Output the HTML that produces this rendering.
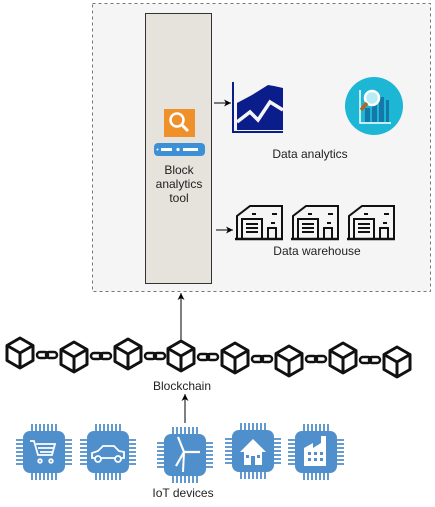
<!DOCTYPE html>
<html><head><meta charset="utf-8"><style>
html,body{margin:0;padding:0;background:#fff;}
svg{display:block;font-family:"Liberation Sans",Arial,sans-serif;}
</style></head><body>
<svg width="435" height="507" viewBox="0 0 435 507" xmlns="http://www.w3.org/2000/svg">
<defs>
<marker id="ah" markerWidth="8" markerHeight="8" refX="7" refY="4" orient="auto" markerUnits="userSpaceOnUse">
<path d="M0,0.5 L7,4 L0,7.5 L2,4 Z" fill="#000"/></marker>
<g id="cube" fill="none" stroke="#111" stroke-width="3" stroke-linejoin="round">
<path d="M0,-15 L13,-7.5 L13,7.5 L0,15 L-13,7.5 L-13,-7.5 Z" fill="#fff"/>
<path d="M-13,-7.5 L0,0 L13,-7.5 M0,0 L0,15"/>
</g>
<g id="chain" fill="none" stroke="#111" stroke-width="2.5">
<rect x="-10" y="-3" width="11" height="6" rx="3"/><rect x="-1" y="-3" width="11" height="6" rx="3"/>
</g>
<g id="chip">
<g stroke="#4f8fcb" stroke-width="1.8">
<path d="M-12,-28 v8 M-8,-28 v8 M-4,-28 v8 M0,-28 v8 M4,-28 v8 M8,-28 v8 M12,-28 v8"/>
<path d="M-12,20 v8 M-8,20 v8 M-4,20 v8 M0,20 v8 M4,20 v8 M8,20 v8 M12,20 v8"/>
<path d="M-28,-12 h8 M-28,-8 h8 M-28,-4 h8 M-28,0 h8 M-28,4 h8 M-28,8 h8 M-28,12 h8"/>
<path d="M20,-12 h8 M20,-8 h8 M20,-4 h8 M20,0 h8 M20,4 h8 M20,8 h8 M20,12 h8"/>
</g>
<rect x="-21" y="-21" width="42" height="42" rx="7" fill="#4f8fcb"/>
</g>
<g id="wh" fill="none" stroke="#111" stroke-width="2">
<path d="M1,35 V12 L14,2 H46 V35"/>
<rect x="6" y="15" width="20" height="20"/>
<path d="M10,20 h12 M10,24 h12 M10,28 h12"/>
<rect x="32" y="24" width="8" height="11"/>
<path d="M16,10 h4 M36,10 h5 M35,19 h4"/>
<path d="M-1,35 h48" stroke-width="2.5"/>
</g>
</defs>

<rect x="92.5" y="3.5" width="338" height="288" fill="#f5f5f5" stroke="#777" stroke-dasharray="3,3"/>
<rect x="145.5" y="13.5" width="66" height="270" fill="#e6e2dc" stroke="#333"/>

<rect x="164" y="109" width="31" height="28" fill="#f0902a"/>
<circle cx="177" cy="120" r="6.5" fill="none" stroke="#fff" stroke-width="2.5"/>
<line x1="182" y1="125" x2="188" y2="131" stroke="#fff" stroke-width="3"/>
<rect x="154" y="143" width="51" height="13" rx="4" fill="#3d8fd6"/>
<rect x="161" y="148" width="11" height="3" fill="#fff"/><rect x="183" y="148" width="15" height="3" fill="#fff"/>
<circle cx="178" cy="149.5" r="1.6" fill="#fff"/><circle cx="157.5" cy="149.5" r="1" fill="#fff"/>
<g font-size="12" fill="#222" text-anchor="middle">
<text x="179" y="174">Block</text><text x="179" y="188">analytics</text><text x="179" y="202">tool</text>
</g>

<line x1="214" y1="103" x2="231" y2="103" stroke="#000" marker-end="url(#ah)"/>
<path d="M233,82 V132 H283" fill="none" stroke="#0a1d8a" stroke-width="2"/>
<path d="M237,130 V103 L252,95 L268,85 L274,86 L283,88 V130 Z" fill="#0a1d8a"/>
<path d="M237,122 L250,112 L258,120 L270,102 L283,110" fill="none" stroke="#f5f5f5" stroke-width="3.5"/>

<circle cx="374" cy="106" r="29" fill="#1eb6d5"/>
<path d="M360,90 V123 H391" fill="none" stroke="#fff" stroke-width="1.5"/>
<rect x="365" y="108" width="5" height="14" fill="#1479a8"/><rect x="372" y="102" width="5" height="20" fill="#1479a8"/><rect x="379" y="97" width="5" height="25" fill="#1479a8"/><rect x="386" y="100" width="3" height="22" fill="#1479a8"/>
<circle cx="372" cy="98" r="7" fill="#b7ecf5" stroke="#fff" stroke-width="2.5"/>
<line x1="367" y1="103" x2="361" y2="110" stroke="#b5651d" stroke-width="3.5"/>
<text x="310" y="158" font-size="12" fill="#222" text-anchor="middle">Data analytics</text>

<line x1="216" y1="230" x2="233" y2="230" stroke="#000" marker-end="url(#ah)"/>
<use href="#wh" x="236" y="204"/><use href="#wh" x="292" y="204"/><use href="#wh" x="348" y="204"/>
<text x="317" y="255" font-size="12" fill="#222" text-anchor="middle">Data warehouse</text>

<line x1="181" y1="340" x2="181" y2="293" stroke="#000" marker-end="url(#ah)"/>

<use href="#chain" x="47" y="355"/><use href="#chain" x="101" y="356"/><use href="#chain" x="155" y="356"/>
<use href="#chain" x="208" y="357"/><use href="#chain" x="262" y="359"/><use href="#chain" x="316" y="359"/><use href="#chain" x="370" y="360"/>
<use href="#cube" x="20" y="353"/><use href="#cube" x="74" y="357"/><use href="#cube" x="128" y="354"/><use href="#cube" x="181" y="356"/>
<use href="#cube" x="235" y="358"/><use href="#cube" x="289" y="361"/><use href="#cube" x="343" y="358"/><use href="#cube" x="397" y="362"/>
<text x="182" y="390" font-size="12" fill="#222" text-anchor="middle">Blockchain</text>

<line x1="185" y1="423" x2="185" y2="394" stroke="#000" marker-end="url(#ah)"/>

<use href="#chip" x="44" y="452"/><use href="#chip" x="108" y="452"/><use href="#chip" x="185" y="455"/><use href="#chip" x="253" y="451"/><use href="#chip" x="316" y="452"/>
<g fill="none" stroke="#fff" stroke-width="1.8">
<path d="M30,441 h4 l4,14 h14 l3,-11 H36 M38,448 h15 M40,452 h12"/>
<circle cx="40" cy="461" r="1.8"/><circle cx="51" cy="461" r="1.8"/>
<path d="M92,458 v-5 l6,-2 l5,-5 h11 l5,5 l5,1 v6 Z"/>
<circle cx="98" cy="459" r="3" fill="#4f8fcb"/><circle cx="118" cy="459" r="3" fill="#4f8fcb"/>
<path d="M183,472 L184,452" stroke-width="2"/>
<path d="M184,452 L178,437 M184,452 L200,452 M184,452 L176,466" stroke-width="2.2"/>
</g>
<path d="M240,452 L253,439 L266,452 H262 V465 H244 V452 Z" fill="#fff"/>
<rect x="246" y="455" width="3" height="3" fill="#4f8fcb"/><rect x="251" y="456" width="4" height="9" fill="#4f8fcb"/><rect x="257" y="455" width="3" height="3" fill="#4f8fcb"/>
<path d="M304,466 V448 L313,443 V448 L321,443 V436 H326 V466 Z" fill="#fff"/>
<g fill="#4f8fcb"><rect x="308" y="452" width="3" height="3"/><rect x="314" y="452" width="3" height="3"/><rect x="320" y="452" width="3" height="3"/><rect x="308" y="458" width="3" height="3"/><rect x="314" y="458" width="3" height="3"/><rect x="320" y="458" width="3" height="3"/></g>
<text x="183" y="497" font-size="12" fill="#222" text-anchor="middle">IoT devices</text>
</svg>
</body></html>
